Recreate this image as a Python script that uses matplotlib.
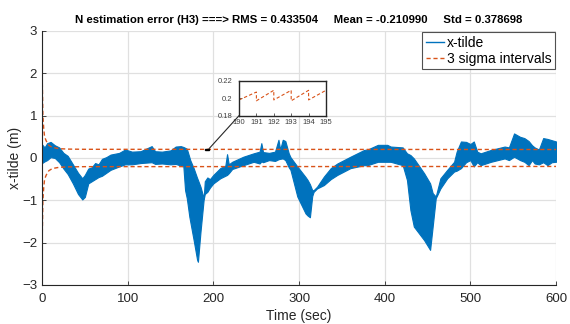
import matplotlib
matplotlib.use("Agg")
import matplotlib.pyplot as plt
from matplotlib.patches import Rectangle, ConnectionPatch

plt.rcParams['font.family'] = ['Liberation Sans', 'DejaVu Sans']

# ---- data ----
title_text = ("N estimation error (H3) ===> RMS = 0.433504     "
              "Mean = -0.210990     Std = 0.378698")

# envelope of the (densely oscillating) x-tilde signal
env_t = [0, 3, 6, 10, 15, 20, 25, 30, 36, 42, 47, 50, 54, 58, 62, 66, 70, 75, 80, 85,
         90, 97, 105, 115, 128, 132, 140, 150, 156, 162, 165, 167, 169, 172, 173, 177,
         181, 182, 185, 188.7, 190, 193, 196, 200, 208, 214, 216, 218, 222, 235, 247,
         254, 256, 258, 265, 272, 276, 278, 281, 284, 288, 290, 298, 307.6, 310, 312.7,
         315.4, 317, 321, 329, 337, 344.7, 360, 376, 380, 392, 403, 407, 421, 426, 430,
         434, 446, 453, 456, 459.6, 465, 473, 481, 484, 489, 495, 500, 504, 508, 512,
         524, 540, 545, 551, 558, 563, 568, 572, 575, 580, 585, 590, 595, 600]
env_hi = [0.32, 0.25, 0.35, 0.38, 0.30, 0.25, 0.12, 0.05, -0.15, -0.35, -0.48, -0.40,
          -0.25, -0.22, -0.12, -0.15, -0.02, 0.02, 0.08, 0.10, 0.12, 0.20, 0.15, 0.16,
          0.28, 0.16, 0.15, 0.18, 0.27, 0.28, 0.26, 0.24, 0.22, 0.02, -0.05, -0.24,
          -0.47, -0.52, -0.68, -0.95, -0.55, -0.46, -0.50, -0.40, -0.24, -0.18, 0.09,
          -0.15, -0.09, 0.03, 0.11, 0.15, 0.35, 0.14, 0.12, 0.15, 0.43, 0.20, 0.43, 0.40,
          0.11, 0.02, -0.20, -0.45, -0.52, -0.62, -0.76, -0.76, -0.68, -0.44, -0.24,
          -0.13, 0.03, 0.19, 0.20, 0.31, 0.31, 0.27, 0.25, 0.11, 0.07, -0.01, -0.36,
          -0.60, -0.83, -0.91, -0.48, -0.28, -0.09, 0.15, 0.39, 0.38, 0.33, 0.39, 0.15,
          0.11, 0.19, 0.27, 0.25, 0.58, 0.50, 0.47, 0.40, 0.30, 0.25, 0.20, 0.47, 0.45,
          0.42, 0.39]
env_lo = [-0.12, -0.08, -0.05, 0.02, 0.00, -0.10, -0.25, -0.38, -0.60, -0.85, -0.98,
          -0.92, -0.60, -0.55, -0.50, -0.45, -0.42, -0.35, -0.28, -0.24, -0.20, -0.15,
          -0.15, -0.12, -0.10, -0.14, -0.13, -0.15, -0.14, -0.18, -0.20, -0.76, -0.95,
          -1.39, -1.50, -1.94, -2.40, -2.45, -1.74, -0.98, -0.85, -0.80, -0.70, -0.60,
          -0.48, -0.42, -0.40, -0.36, -0.26, -0.17, -0.09, -0.13, -0.08, -0.10, -0.05,
          -0.07, -0.03, -0.02, -0.01, -0.05, -0.22, -0.28, -0.91, -1.31, -1.36, -1.40,
          -0.90, -0.80, -0.72, -0.64, -0.50, -0.40, -0.24, -0.17, -0.17, -0.09, -0.09,
          -0.09, -0.17, -0.52, -1.23, -1.62, -1.94, -2.17, -1.62, -0.95, -0.72, -0.48,
          -0.32, -0.30, -0.24, -0.10, -0.05, -0.20, -0.10, -0.17, -0.09, -0.01, -0.05,
          0.03, -0.05, -0.09, -0.17, -0.05, -0.13, -0.15, -0.10, -0.17, -0.10, -0.09]

# 3-sigma bound
sigma_t = [0, 0.5, 1, 2, 3, 5, 8, 12, 20, 30, 50, 600]
sigma_v = [2.1, 1.6, 1.0, 0.7, 0.5, 0.4, 0.3, 0.25, 0.22, 0.21, 0.205, 0.2]

# zoomed view of the sigma bound (inset)
inset_t = [190, 191, 191, 192, 192, 193, 193, 194, 194, 195]
inset_v = [0.198, 0.207, 0.197, 0.209, 0.198, 0.209, 0.197, 0.209, 0.198, 0.209]

xticks = [0, 100, 200, 300, 400, 500, 600]
yticks = [-3, -2, -1, 0, 1, 2, 3]

BLUE = '#0072BD'
ORANGE = '#D95319'
AXC = '#262626'

fig = plt.figure(figsize=(5.70, 3.24), dpi=100)
ax = fig.add_axes([0.0737, 0.1204, 0.9018, 0.784])

ax.fill_between(env_t, env_lo, env_hi, color=BLUE, linewidth=0.8, edgecolor=BLUE)
ax.plot([], [], color=BLUE, lw=1.0, label='x-tilde')
ax.plot(sigma_t, sigma_v, color=ORANGE, ls=(0, (3, 2)), lw=1.0, label='3 sigma intervals')
ax.plot(sigma_t, [-v for v in sigma_v], color=ORANGE, ls=(0, (3, 2)), lw=1.0)

ax.set_xlim(0, 600)
ax.set_ylim(-3, 3)
ax.set_xticks(xticks)
ax.set_yticks(yticks)
ax.grid(True, color='#e0e0e0', lw=0.9)
ax.set_axisbelow(True)
for s in ['top', 'right']:
    ax.spines[s].set_visible(False)
for s in ['left', 'bottom']:
    ax.spines[s].set_color(AXC)
    ax.spines[s].set_linewidth(0.8)
ax.tick_params(direction='in', length=3, width=0.6, colors=AXC, labelsize=9.5,
               labelcolor=AXC)
ax.tick_params(axis='x', pad=6)
ax.set_xlabel('Time (sec)', fontsize=10, color=AXC, labelpad=3)
ax.set_ylabel('x-tilde (m)', fontsize=10, color=AXC, labelpad=0)
ax.set_title(title_text, fontsize=8.2, fontweight='bold', color='black', pad=6)

leg = ax.legend(loc='upper right', bbox_to_anchor=(1.0, 1.0), fontsize=10,
                frameon=True, fancybox=False, handlelength=1.3, handletextpad=0.2,
                borderpad=0.25, labelspacing=0.15, borderaxespad=0.1)
leg.get_frame().set_edgecolor(AXC)
leg.get_frame().set_linewidth(0.8)

# rectangle marking the zoomed region
rect = Rectangle((190, 0.18), 5, 0.04, facecolor='#8c6a5a', edgecolor='black', lw=1.0,
                 zorder=5)
ax.add_patch(rect)

# inset
ins = fig.add_axes([0.4193, 0.643, 0.1526, 0.108])
ins.plot(inset_t, inset_v, color=ORANGE, ls=(0, (3, 2)), lw=0.8)
ins.set_xlim(190, 195)
ins.set_ylim(0.18, 0.22)
ins.set_xticks([190, 191, 192, 193, 194, 195])
ins.set_yticks([0.18, 0.2, 0.22])
ins.set_yticklabels(['0.18', '0.2', '0.22'])
ins.tick_params(direction='in', length=2, width=0.5, labelsize=5.5, colors=AXC,
                labelcolor='#404040')
ins.tick_params(axis='y', pad=5)
ins.tick_params(axis='x', pad=2.5)
for s in ins.spines.values():
    s.set_color(AXC)
    s.set_linewidth(1.0)
ins.grid(False)

con = ConnectionPatch(xyA=(195, 0.22), coordsA=ax.transData,
                      xyB=(190, 0.18), coordsB=ins.transData,
                      color=AXC, lw=0.8)
fig.add_artist(con)

fig.savefig('out.png', dpi=100)
